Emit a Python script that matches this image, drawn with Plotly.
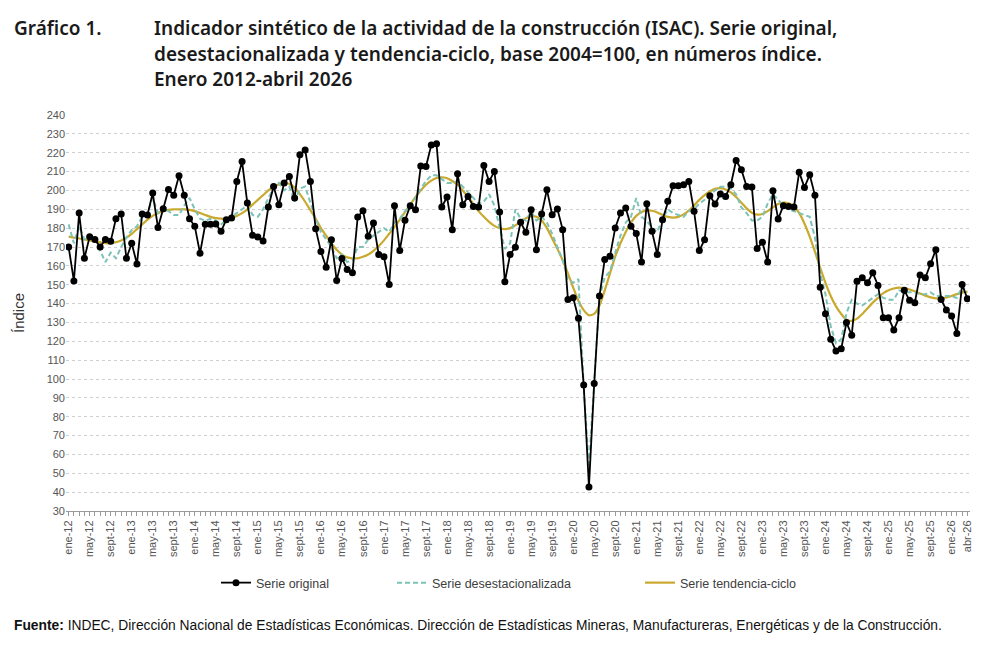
import plotly.graph_objects as go

meses = ["ene", "feb", "mar", "abr", "may", "jun", "jul", "ago", "sept", "oct", "nov", "dic"]
anios = list(range(12, 27))
etiquetas = [f"{m}-{a:02d}" for a in anios for m in meses][:172]

serie_original = [
    170, 152, 188, 164, 175.5, 174, 170, 174, 173, 185, 187.5, 164,
    172, 161, 187.5, 187, 198.6, 180.3, 190.3, 200.5, 197.4, 207.8, 197.5, 185,
    181, 166.7, 182, 182, 182.2, 178.3, 184.5, 185.4, 204.8, 215.3, 193.3, 176.2,
    175.3, 173.2, 191.2, 202.1, 192.4, 203.9, 207.4, 196, 218.9, 221.5, 204.8, 179.7,
    167.6, 159.3, 173.9, 152.3, 163.9, 158.1, 156.3, 185.9, 189.2, 175.7, 182.7, 166,
    164.8, 150.1, 191.9, 168.1, 184.2, 191.9, 189.8, 213, 212.7, 224.1, 224.7, 191.2,
    196.5, 179.2, 208.8, 192.4, 196.8, 191.5, 191.2, 213.2, 204.8, 210, 188.6, 151.6,
    166, 169.9, 183.1, 177.8, 189.8, 168.6, 187.5, 200.4, 187.1, 190.1, 179.2, 142.2,
    143.1, 132.2, 96.8, 42.7, 97.6, 144, 163.4, 165.1, 180.1, 188, 190.7, 181,
    177.1, 162.1, 193, 178.3, 166, 184.5, 194.2, 202.5, 202.5, 203, 204.8, 188.9,
    168.1, 173.9, 197.2, 192.8, 198.1, 196.8, 203, 215.9, 211, 202.1, 201.8, 169.2,
    172.5, 162.1, 199.8, 184.9, 191.9, 191.5, 191.2, 209.7, 201.6, 208.3, 197.4, 148.7,
    134.6, 121.1, 114.9, 116.1, 129.9, 123.2, 151.9, 153.7, 151, 156.3, 149.6, 132.5,
    132.5, 126, 132.5, 147, 141.7, 140.5, 155.1, 153.7, 161.1, 168.6, 142.2, 136.6,
    133.4, 124.1, 150.1, 142.6,
]

serie_desestacionalizada = [
    182, 172, 181, 174, 175, 175, 168, 162, 167, 164, 170, 175,
    179, 181, 186, 188, 196, 188, 191, 189, 187, 187, 192, 196,
    190, 185, 184, 185, 184, 182, 184, 186, 188, 190, 192, 187,
    186, 190, 196, 201, 204, 200, 202, 194, 201, 202, 193, 185,
    178, 174, 170, 164, 166, 162, 163, 170, 170, 174, 176, 178,
    180, 178, 183, 185, 189, 192, 196, 201, 205, 208, 208, 206,
    204, 204, 205, 202, 199, 196, 193, 194, 198, 192, 180, 169,
    172, 190, 185, 184, 189, 184, 186, 183, 177, 170, 163, 153,
    151, 153, 96, 53, 98, 143, 154, 157, 167, 176, 183, 186,
    196, 186, 184, 180, 178, 185, 190, 188, 187, 186, 189, 190,
    193, 195, 198, 200, 202, 202, 201, 198, 191, 188, 184, 184,
    186, 193, 198, 195, 192, 190, 189, 188, 187, 186, 175, 156,
    145, 128, 119, 121, 135, 142, 140, 139, 141, 143, 145, 143,
    142, 142, 147, 146, 146, 146, 145, 145, 146, 144, 144, 144,
    144, 143, 149, 146,
]

serie_tendencia = [
    175.5, 175, 174.5, 174, 173.5, 173, 172.5, 172, 172, 172.5, 173.5, 175,
    177, 179.5, 182, 184.5, 186.5, 188, 189, 189.7, 190, 190, 190, 189.7,
    189, 188, 187, 186, 185.3, 185, 185, 185.5, 186.5, 188, 190, 192.5,
    195, 197.5, 200, 202, 203.2, 203.8, 203.5, 201.5, 198, 194, 189.5, 185,
    180, 176, 172, 168.5, 166, 164.5, 164, 164, 164.8, 166, 168, 170.5,
    173.5, 177, 180.5, 184.5, 188.5, 192.5, 196.5, 200, 203, 205.2, 206.6, 207,
    206.5, 205, 203, 200, 196.5, 193, 189, 186, 183.3, 181.2, 180, 179.5,
    180, 181.5, 183.5, 185.3, 186.3, 186, 184, 180, 174.5, 169, 163, 156,
    148.5, 141.5, 136.5, 133.8, 134.5, 139, 147, 156, 165, 172, 178, 183,
    186.5, 188.5, 189.3, 189.2, 188.3, 187, 186, 185.6, 186, 187.3, 189.3, 192,
    195, 197.5, 199.5, 200.8, 201.2, 200.5, 199, 196.5, 193.5, 190.5, 188.2, 187.2,
    187.5, 189, 191, 192.8, 193.5, 193.2, 191.5, 188, 182.5, 175.5, 167.5, 159,
    151, 144, 138.5, 134.5, 131.5, 130.8, 132, 134.5, 137.5, 140.5, 143, 145.5,
    147, 148, 148.5, 148.2, 147.5, 146.5, 145.3, 144.2, 143.3, 142.8, 142.8, 143.2,
    144, 145, 145.8, 146.3,
]

n = len(etiquetas)
x = list(range(n))
ticktext = [etiquetas[i] if (i % 4 == 0 or i == n - 1) else "" for i in range(n)]

NEGRO = "#000000"
TEAL = "#7cc2b6"
ORO = "#c9a92e"

fig = go.Figure()
fig.add_trace(go.Scatter(
    x=x, y=serie_tendencia, mode="lines", name="Serie tendencia-ciclo",
    line=dict(color=ORO, width=2.2, shape="spline", smoothing=0.6), legend="legend3"))
fig.add_trace(go.Scatter(
    x=x, y=serie_desestacionalizada, mode="lines", name="Serie desestacionalizada",
    line=dict(color=TEAL, width=2, dash="5px,3px"), legend="legend2"))
fig.add_trace(go.Scatter(
    x=x, y=serie_original, mode="lines+markers", name="Serie original",
    line=dict(color=NEGRO, width=1.8), marker=dict(color=NEGRO, size=7), legend="legend"))

L, R, T, B = 66, 30, 115, 147
W, H = 1000, 658
PW = W - L - R
PH = H - T - B


def px(X):
    return (X - L) / PW


def py(Y):
    return (H - B - Y) / PH


leg_font = dict(family="Liberation Sans, Arial, sans-serif", size=12.5, color="#404040")
legend_common = dict(orientation="h", font=leg_font, bgcolor="rgba(0,0,0,0)",
                     xanchor="left", yanchor="middle", itemwidth=30)

title_font = dict(family="Noto Sans, sans-serif", size=19, color="#1a1a1a", weight=600)

annotations = [
    dict(text="Gráfico 1.", x=px(12), y=py(28), xref="paper", yref="paper",
         xanchor="left", yanchor="middle", showarrow=False, font=title_font),
    dict(text="Indicador sintético de la actividad de la construcción (ISAC). Serie original,",
         x=px(152), y=py(28), xref="paper", yref="paper", xanchor="left", yanchor="middle",
         showarrow=False, font=title_font),
    dict(text="desestacionalizada y tendencia-ciclo, base 2004=100, en números índice.",
         x=px(152), y=py(54), xref="paper", yref="paper", xanchor="left", yanchor="middle",
         showarrow=False, font=title_font),
    dict(text="Enero 2012-abril 2026",
         x=px(152), y=py(79), xref="paper", yref="paper", xanchor="left", yanchor="middle",
         showarrow=False, font=title_font),
    dict(text="Índice", x=px(18), y=py(313), xref="paper", yref="paper", textangle=-90,
         xanchor="center", yanchor="middle", showarrow=False,
         font=dict(family="Liberation Sans, Arial, sans-serif", size=15, color="#333333")),
    dict(text="<b>Fuente:</b> INDEC, Dirección Nacional de Estadísticas Económicas. Dirección de Estadísticas Mineras, Manufactureras, Energéticas y de la Construcción.",
         x=px(12), y=py(625), xref="paper", yref="paper", xanchor="left", yanchor="middle",
         showarrow=False, font=dict(family="Liberation Sans, Arial, sans-serif", size=13.8, color="#111111")),
]

fig.update_layout(
    width=W, height=H,
    margin=dict(l=L, r=R, t=T, b=B),
    paper_bgcolor="white", plot_bgcolor="white",
    showlegend=True,
    legend=dict(x=px(216), y=py(583), **legend_common),
    legend2=dict(x=px(392), y=py(583), **legend_common),
    legend3=dict(x=px(640), y=py(583), **legend_common),
    annotations=annotations,
    xaxis=dict(
        range=[-0.5, n - 0.5], tickmode="array", tickvals=x, ticktext=ticktext,
        tickangle=-90, ticks="outside", ticklen=4, tickcolor="#9a9a9a", tickwidth=1,
        showline=True, linecolor="#9a9a9a", linewidth=1, showgrid=False, zeroline=False,
        tickfont=dict(family="Liberation Sans, Arial, sans-serif", size=11, color="#555555"),
    ),
    yaxis=dict(
        range=[30, 240], tick0=30, dtick=10, showgrid=True, gridcolor="#cfcfcf",
        griddash="dot", gridwidth=1, zeroline=False, showline=False, ticks="",
        tickfont=dict(family="Liberation Sans, Arial, sans-serif", size=11, color="#555555"),
    ),
)

fig.write_html("out.html")
